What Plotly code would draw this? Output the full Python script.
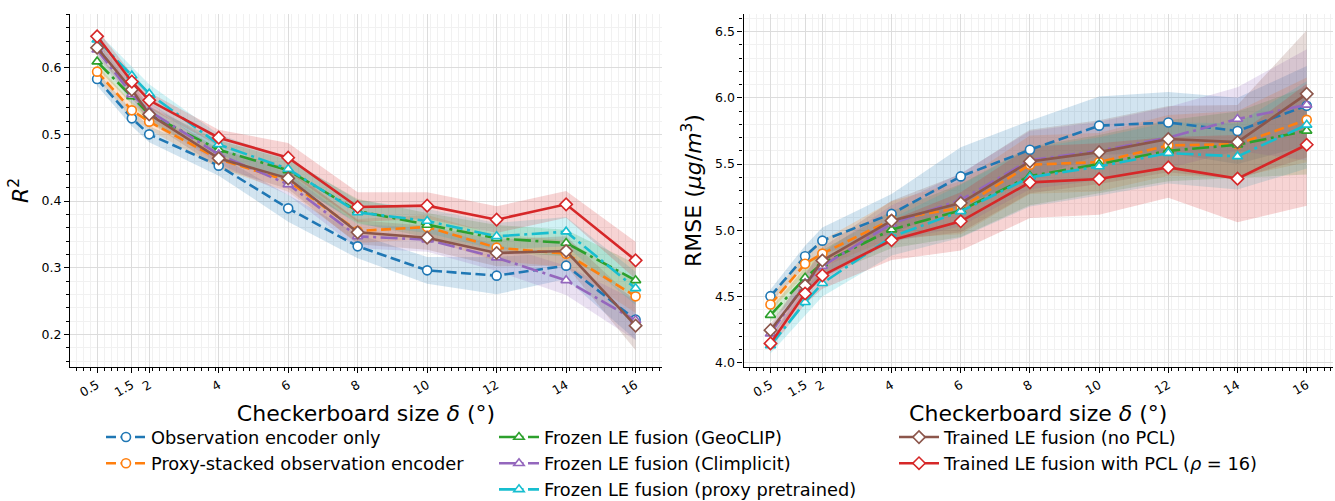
import plotly.graph_objects as go

# ---------------- data ----------------
delta = [0.5, 1.5, 2, 4, 6, 8, 10, 12, 14, 16]
tick_labels = ["0.5", "1.5", "2", "4", "6", "8", "10", "12", "14", "16"]

names = [
    "Observation encoder only",
    "Proxy-stacked observation encoder",
    "Frozen LE fusion (GeoCLIP)",
    "Frozen LE fusion (Climplicit)",
    "Frozen LE fusion (proxy pretrained)",
    "Trained LE fusion (no PCL)",
    "Trained LE fusion with PCL (<i>ρ</i> = 16)",
]

# R^2 means
r2_obs = [0.583, 0.524, 0.500, 0.453, 0.389, 0.332, 0.296, 0.288, 0.303, 0.222]
r2_proxy = [0.594, 0.536, 0.519, 0.463, 0.430, 0.355, 0.361, 0.330, 0.321, 0.257]
r2_geoclip = [0.609, 0.557, 0.530, 0.477, 0.446, 0.385, 0.364, 0.344, 0.337, 0.281]
r2_climplicit = [0.627, 0.560, 0.535, 0.470, 0.425, 0.347, 0.342, 0.315, 0.281, 0.221]
r2_proxypre = [0.642, 0.588, 0.561, 0.485, 0.448, 0.383, 0.370, 0.347, 0.354, 0.269]
r2_nopcl = [0.630, 0.567, 0.530, 0.464, 0.434, 0.353, 0.345, 0.322, 0.325, 0.213]
r2_pcl = [0.647, 0.579, 0.551, 0.495, 0.465, 0.391, 0.393, 0.372, 0.395, 0.311]

# R^2 half-widths of shaded bands
r2_obs_sd = [0.010, 0.012, 0.012, 0.015, 0.020, 0.018, 0.020, 0.028, 0.020, 0.030]
r2_proxy_sd = [0.010, 0.012, 0.012, 0.014, 0.016, 0.018, 0.018, 0.020, 0.020, 0.025]
r2_geoclip_sd = [0.010, 0.012, 0.012, 0.014, 0.016, 0.018, 0.018, 0.020, 0.020, 0.025]
r2_climplicit_sd = [0.010, 0.012, 0.012, 0.014, 0.016, 0.018, 0.018, 0.020, 0.022, 0.030]
r2_proxypre_sd = [0.012, 0.014, 0.014, 0.015, 0.016, 0.018, 0.018, 0.020, 0.022, 0.025]
r2_nopcl_sd = [0.010, 0.012, 0.012, 0.014, 0.016, 0.018, 0.018, 0.020, 0.022, 0.037]
r2_pcl_sd = [0.010, 0.012, 0.012, 0.012, 0.022, 0.022, 0.020, 0.020, 0.020, 0.028]

# RMSE means
rmse_obs = [4.503, 4.804, 4.922, 5.124, 5.407, 5.608, 5.790, 5.814, 5.750, 5.940]
rmse_proxy = [4.440, 4.747, 4.824, 5.080, 5.170, 5.495, 5.515, 5.641, 5.650, 5.834]
rmse_geoclip = [4.360, 4.641, 4.750, 5.005, 5.150, 5.410, 5.500, 5.600, 5.646, 5.751]
rmse_climplicit = [4.220, 4.600, 4.730, 5.050, 5.230, 5.530, 5.600, 5.700, 5.840, 5.947]
rmse_proxypre = [4.130, 4.457, 4.600, 4.950, 5.143, 5.400, 5.482, 5.583, 5.558, 5.796]
rmse_nopcl = [4.246, 4.583, 4.772, 5.073, 5.206, 5.520, 5.590, 5.689, 5.666, 6.030]
rmse_pcl = [4.146, 4.523, 4.659, 4.925, 5.068, 5.362, 5.387, 5.475, 5.390, 5.646]

# RMSE half-widths of shaded bands
rmse_obs_sd = [0.05, 0.08, 0.10, 0.15, 0.22, 0.22, 0.22, 0.23, 0.25, 0.30]
rmse_proxy_sd = [0.05, 0.08, 0.10, 0.14, 0.20, 0.22, 0.22, 0.23, 0.25, 0.32]
rmse_geoclip_sd = [0.05, 0.08, 0.10, 0.14, 0.20, 0.22, 0.22, 0.23, 0.25, 0.33]
rmse_climplicit_sd = [0.05, 0.08, 0.10, 0.14, 0.20, 0.22, 0.22, 0.23, 0.24, 0.42]
rmse_proxypre_sd = [0.06, 0.10, 0.10, 0.14, 0.20, 0.22, 0.22, 0.23, 0.25, 0.33]
rmse_nopcl_sd = [0.05, 0.08, 0.10, 0.15, 0.22, 0.24, 0.24, 0.25, 0.28, 0.48]
rmse_pcl_sd = [0.04, 0.08, 0.10, 0.15, 0.22, 0.27, 0.27, 0.23, 0.33, 0.46]

# ---------------- styles ----------------
colors = ["#1f77b4", "#ff7f0e", "#2ca02c", "#9467bd", "#17becf", "#8c564b", "#d62728"]
fills = ["rgba(31,119,180,0.2)", "rgba(255,127,14,0.2)", "rgba(44,160,44,0.2)",
         "rgba(148,103,189,0.2)", "rgba(23,190,207,0.2)", "rgba(140,86,75,0.2)",
         "rgba(214,39,40,0.2)"]
DASH = "10px,4.5px"
DASHDOT = "17px,4.5px,3px,4.5px"
dashes = [DASH, DASH, DASHDOT, DASHDOT, DASHDOT, "solid", "solid"]
symbols = ["circle", "circle", "triangle-up", "triangle-up", "triangle-up", "diamond", "diamond"]
msizes = [9, 9, 9, 9, 9, 9.5, 9.5]
legend_ids = ["legend", "legend", "legend2", "legend2", "legend2", "legend3", "legend3"]

r2_means = [r2_obs, r2_proxy, r2_geoclip, r2_climplicit, r2_proxypre, r2_nopcl, r2_pcl]
r2_sds = [r2_obs_sd, r2_proxy_sd, r2_geoclip_sd, r2_climplicit_sd, r2_proxypre_sd, r2_nopcl_sd, r2_pcl_sd]
rmse_means = [rmse_obs, rmse_proxy, rmse_geoclip, rmse_climplicit, rmse_proxypre, rmse_nopcl, rmse_pcl]
rmse_sds = [rmse_obs_sd, rmse_proxy_sd, rmse_geoclip_sd, rmse_climplicit_sd, rmse_proxypre_sd, rmse_nopcl_sd, rmse_pcl_sd]

fig = go.Figure()

# bands first (under lines)
for means, sds, xa, ya in [(r2_means, r2_sds, "x", "y"), (rmse_means, rmse_sds, "x2", "y2")]:
    for i in range(len(names)):
        up = [m + s for m, s in zip(means[i], sds[i])]
        lo = [m - s for m, s in zip(means[i], sds[i])]
        fig.add_trace(go.Scatter(
            x=delta + delta[::-1], y=up + lo[::-1], fill="toself",
            fillcolor=fills[i], line=dict(width=0), mode="lines",
            hoverinfo="skip", showlegend=False, xaxis=xa, yaxis=ya))

for means, xa, ya, show in [(r2_means, "x", "y", True), (rmse_means, "x2", "y2", False)]:
    for i in range(len(names)):
        fig.add_trace(go.Scatter(
            x=delta, y=means[i], mode="lines+markers", name=names[i],
            line=dict(color=colors[i], width=2.6, dash=dashes[i]),
            marker=dict(symbol=symbols[i], size=msizes[i], color="white",
                        line=dict(color=colors[i], width=1.6)),
            showlegend=show, legend=legend_ids[i], xaxis=xa, yaxis=ya))

W, H = 1335, 501
font_family = "DejaVu Sans"

def xaxis_cfg(domain, anchor):
    return dict(
        domain=domain, anchor=anchor, automargin=False,
        range=[-0.28, 16.76], tickmode="array", tickvals=delta,
        ticktext=tick_labels, tickangle=-30, ticks="outside", ticklen=5, tickwidth=1.1,
        tickcolor="black", showline=True, linecolor="black", linewidth=1.2,
        showgrid=True, gridcolor="#dcdcdc", gridwidth=1, zeroline=False,
        tickfont=dict(size=12.5, color="black"),
        minor=dict(tick0=0.5, dtick=0.2, ticks="outside", ticklen=3, tickwidth=0.8,
                   tickcolor="black", showgrid=True, gridcolor="#f1f1f1", gridwidth=0.8),
        title=dict(text="Checkerboard size <i>δ</i> (°)", font=dict(size=22, color="black"), standoff=6),
    )

def yaxis_cfg(anchor, rng, vals, texts, minor_dtick, title, standoff):
    return dict(
        domain=[1 - 367 / H, 1 - 14 / H], anchor=anchor, automargin=False,
        range=rng, tickmode="array", tickvals=vals, ticktext=texts,
        ticks="outside", ticklen=5, tickwidth=1.1, tickcolor="black",
        showline=True, linecolor="black", linewidth=1.2,
        showgrid=True, gridcolor="#dcdcdc", zeroline=False,
        tickfont=dict(size=12.5, color="black"),
        minor=dict(tick0=0, dtick=minor_dtick, ticks="outside", ticklen=3, tickwidth=0.8,
                   tickcolor="black", showgrid=True, gridcolor="#f1f1f1", gridwidth=0.8),
        title=dict(text=title, font=dict(size=22, color="black"), standoff=standoff),
    )

fig.update_layout(
    width=W, height=H,
    margin=dict(l=0, r=0, t=0, b=0, autoexpand=False),
    paper_bgcolor="white", plot_bgcolor="white",
    font=dict(family=font_family, color="black"),
    xaxis=xaxis_cfg([70 / W, 662 / W], "y"),
    xaxis2=xaxis_cfg([743.5 / W, 1333 / W], "y2"),
    yaxis=yaxis_cfg("x", [0.151, 0.6805], [0.2, 0.3, 0.4, 0.5, 0.6],
                    ["0.2", "0.3", "0.4", "0.5", "0.6"], 0.02, "<i>R</i><sup>2</sup>", 6),
    yaxis2=yaxis_cfg("x2", [3.968, 6.633], [4.0, 4.5, 5.0, 5.5, 6.0, 6.5],
                     ["4.0", "4.5", "5.0", "5.5", "6.0", "6.5"], 0.1,
                     "RMSE (<i>μg</i>/<i>m</i><sup>3</sup>)", 7),
)

leg_common = dict(orientation="v", yanchor="top", xanchor="left", bgcolor="rgba(0,0,0,0)",
                  font=dict(size=17.8, color="black", family=font_family), itemwidth=40,
                  tracegroupgap=0)
top = 1 - 419 / H
fig.update_layout(
    legend=dict(x=101 / W, y=top, **leg_common),
    legend2=dict(x=494 / W, y=top, **leg_common),
    legend3=dict(x=894 / W, y=top, **leg_common),
)

fig.write_html(
    "out.html",
    config={"displayModeBar": False},
    post_script="document.body.style.margin='0';document.body.style.overflow='hidden';",
)
